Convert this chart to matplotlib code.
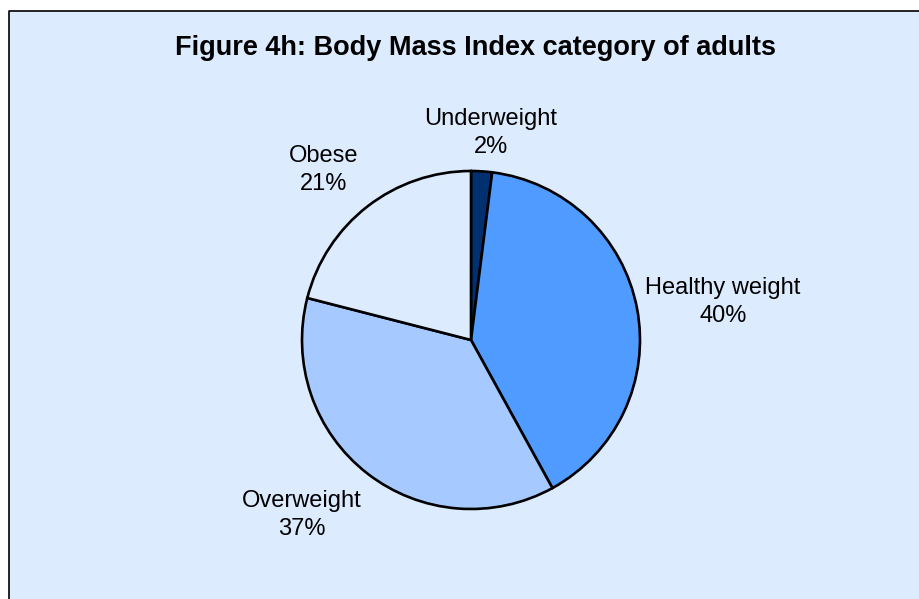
import numpy as np
import matplotlib
matplotlib.use('Agg')
import matplotlib.pyplot as plt
from matplotlib.patches import Rectangle

# data
categories = ['Underweight', 'Healthy weight', 'Overweight', 'Obese']
percents = [2, 40, 37, 21]
colors = ['#003070', '#4F9BFF', '#A6CAFF', '#DDEBFF']
title = 'Figure 4h: Body Mass Index category of adults'

plt.rcParams['font.family'] = ['Liberation Sans', 'DejaVu Sans']

W, H = 920, 599
fig = plt.figure(figsize=(W / 100, H / 100), dpi=100)
fig.patch.set_facecolor('white')
ax = fig.add_axes([0, 0, 1, 1])

# background panel, border only on left/top
ax.add_patch(Rectangle((9.5, 0), W, H - 10.5, facecolor='#DDEBFF',
                       edgecolor='none', zorder=0))
ax.plot([9.5, 9.5, W], [0, H - 10.5, H - 10.5], color='black', lw=1.2,
        zorder=0.5)

cx, cy, r = 471, H - 340, 169
wedges, _ = ax.pie(percents, colors=colors, startangle=90, counterclock=False,
                   center=(cx, cy), radius=r, frame=True,
                   wedgeprops=dict(edgecolor='black', linewidth=1.9))
ax.set_xlim(0, W)
ax.set_ylim(0, H)
ax.axis('off')

# label positions (pixels, top-left origin)
label_pos = [(491, 133), (723, 302), (302, 515), (324, 170)]
for name, p, (lx, ly) in zip(categories, percents, label_pos):
    ax.text(lx, H - ly, '%s\n%d%%' % (name, p), ha='center', va='center',
            fontsize=17, linespacing=1.35)

ax.text(476, H - 48, title, ha='center', va='center', fontsize=19.5,
        fontweight='bold')

fig.savefig('out.png', dpi=100)
